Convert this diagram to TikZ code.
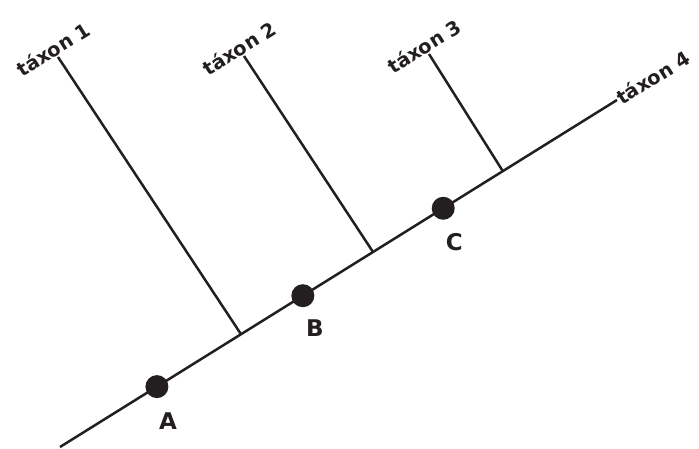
\documentclass[tikz,border=0pt]{standalone}
\usepackage{fontspec}
\setmainfont{DejaVu Sans}
\usetikzlibrary{calc, positioning}
\definecolor{ink}{HTML}{231F20}

\begin{document}
\begin{tikzpicture}[x=1pt, y=-1pt,
    stem/.style={draw=ink, line width=2.5pt},
    taxon/.style={font=\bfseries\fontsize{19.5}{20}\selectfont, text=ink, rotate=32, inner sep=1pt},
    dot/.style={circle, fill=ink, draw=none, minimum size=23pt, inner sep=0pt},
    letter/.style={font=\bfseries\fontsize{23}{23}\selectfont, text=ink, inner sep=0pt}]
  \useasboundingbox (0,0) rectangle (699,449);

  % main lineage
  \coordinate (root) at (60,447);
  \coordinate (t4) at (617,100);
  \draw [stem] (root) -- (t4);

  % branching points
  \coordinate (j1) at ($(root)!0.325!(t4)$);
  \coordinate (j2) at ($(root)!0.562!(t4)$);
  \coordinate (j3) at ($(root)!0.795!(t4)$);
  \coordinate (t1) at (58,57);
  \coordinate (t2) at (244,56);
  \coordinate (t3) at (429,54);
  \draw [stem] (j1) -- (t1);
  \draw [stem] (j2) -- (t2);
  \draw [stem] (j3) -- (t3);

  % taxon labels
  \node [taxon, anchor=south] (n1) at (t1) {táxon 1};
  \node [taxon, anchor=south] (n2) at (t2) {táxon 2};
  \node [taxon, anchor=south] (n3) at (t3) {táxon 3};
  \node [taxon, anchor=west] (n4) at (t4) {táxon 4};

  % characters
  \node [dot] (A) at ($(root)!0.174!(t4)$) {};
  \node [dot] (B) at ($(root)!0.436!(t4)$) {};
  \node [dot] (C) at ($(root)!0.688!(t4)$) {};
  \node [letter] (lA) at ($(A)+(11,34)$) {A};
  \node [letter] (lB) at ($(B)+(12,32)$) {B};
  \node [letter] (lC) at ($(C)+(11,34)$) {C};
\end{tikzpicture}
\end{document}
